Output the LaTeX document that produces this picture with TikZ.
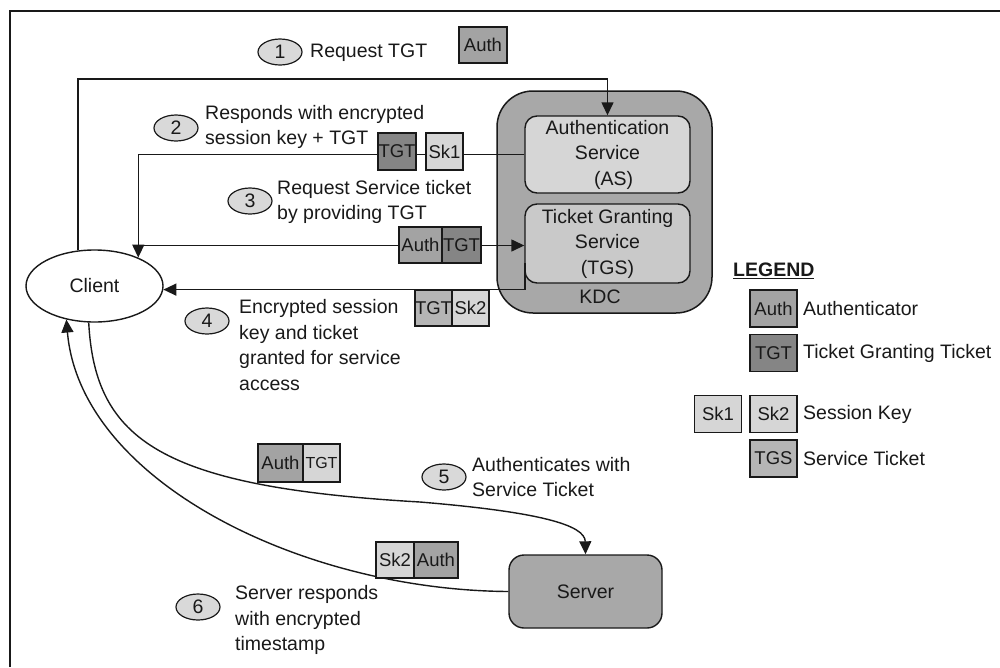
\documentclass[tikz,border=0pt]{standalone}
\usepackage{fontspec}
\setmainfont{Liberation Sans}
\usetikzlibrary{arrows.meta,calc,shapes.geometric}

\definecolor{numfill}{gray}{0.85}
\definecolor{authfill}{gray}{0.64}
\definecolor{tgtfill}{gray}{0.52}
\definecolor{skfill}{gray}{0.84}
\definecolor{tgsfill}{gray}{0.71}
\definecolor{kdcfill}{gray}{0.66}
\definecolor{asfill}{gray}{0.84}
\definecolor{tgsboxfill}{gray}{0.79}
\definecolor{serverfill}{gray}{0.66}
\definecolor{ink}{gray}{0.1}

\begin{document}
\begin{tikzpicture}[x=1pt,y=-1pt,
  every node/.style={font=\fontsize{19.5}{25.5}\selectfont, inner sep=0pt, text=ink},
  wire/.style={line width=1.4pt, draw=ink},
  arr/.style={wire, -{Triangle[length=13pt,width=12pt]}},
  num/.style={ellipse, draw=ink, line width=1.2pt, fill=numfill,
              minimum width=44pt, minimum height=26pt},
  tok/.style={draw=ink, line width=1.3pt, minimum height=37pt,
              font=\fontsize{18.5}{20}\selectfont},
  svc/.style={draw=ink, line width=1.4pt, rounded corners=12pt, align=center},
  note/.style={anchor=west, align=left},
]
\useasboundingbox (0,0) rectangle (1000,667);

% open frame (top and left edges)
\draw[line width=2pt, draw=ink] (10,667) -- (10,11) -- (1000,11);

% main actors
\node[ellipse, draw=ink, line width=1.4pt, fill=white,
      minimum width=137pt, minimum height=72pt] (client) at (94.5,286) {Client};
\node[draw=ink, line width=1.5pt, fill=kdcfill, rounded corners=36pt,
      minimum width=215pt, minimum height=222pt] (kdc) at (604.5,202) {};
\node (kdclabel) at (600,297) {KDC};
\node[svc, fill=asfill, minimum width=165pt, minimum height=77pt] (as)
      at (607.5,154.5) {Authentication\\Service\\\hspace*{12pt}(AS)};
\node[svc, fill=tgsboxfill, minimum width=165pt, minimum height=79pt] (tgs)
      at (607.5,243.5) {Ticket Granting\\Service\\(TGS)};
\node[svc, fill=serverfill, rounded corners=15pt, minimum width=153pt,
      minimum height=73pt] (server) at (585.5,591.5) {Server};

% helper points for the routed connectors
\coordinate (top1) at (300,79);
\coordinate (c3) at (137.6,245.5);
\coordinate (t4) at (525,263);
\coordinate (c5) at (420,502);

% 1: request TGT
\draw[arr] (client.115) |- (top1) -| (as.north);
% 2: session key + TGT back to the client
\draw[arr] (as.west) -| (client.33);
% 3: service ticket request to the TGS
\draw[arr] (c3) -- (c3 -| tgs.west);
% 4: encrypted session key and ticket
\draw[arr] (t4) |- (client.-3);
% 5: authenticate with the server
\draw[arr] (client.-99) .. controls (95,440) and (160,487) .. (c5)
           .. controls (540,512) and (585,525) .. (server.north);
% 6: server response
\draw[arr] (server.west) .. controls (300,590) and (80,480) .. (client.-130);

% step numbers
\node[num] (n1) at (280,52) {1};
\node[num] (n2) at (176,128) {2};
\node[num] (n3) at (250,201) {3};
\node[num] (n4) at (207,321) {4};
\node[num] (n5) at (444,477) {5};
\node[num] (n6) at (198,607) {6};

% step descriptions
\node[note] (d1) at (310,53) {Request TGT};
\node[note] (d2) at (205,127) {Responds with encrypted\\session key + TGT};
\node[note] (d3) at (277,202) {Request Service ticket\\by providing TGT};
\node[note] (d4) at (239,345) {Encrypted session\\key and ticket\\granted for service\\access};
\node[note] (d5) at (472,477) {Authenticates with\\Service Ticket};
\node[note] (d6) at (235,620) {Server responds\\with encrypted\\timestamp};

% tokens carried by each message
\node[tok, fill=authfill, minimum width=48pt, minimum height=36pt] (k1a) at (483,45) {Auth};

\node[tok, fill=tgtfill, minimum width=38pt] (k2t) at (397,151.5) {TGT};
\node[tok, fill=skfill, minimum width=37pt] (k2s) at (444.5,151.5) {Sk1};

\node[tok, fill=authfill, minimum width=43pt, minimum height=36pt] (k3a) at (420.5,245) {Auth};
\node[tok, fill=tgtfill, minimum width=39pt, minimum height=36pt] (k3t) at (461.5,245) {TGT};

\node[tok, fill=tgsfill, minimum width=37pt, minimum height=36pt] (k4t) at (433.5,308) {TGT};
\node[tok, fill=skfill, minimum width=37pt, minimum height=36pt] (k4s) at (470.5,308) {Sk2};

\node[tok, fill=authfill, minimum width=45pt, minimum height=38pt] (k5a) at (280.5,463) {Auth};
\node[tok, fill=skfill, minimum width=37pt, minimum height=38pt] (k5t) at (321.5,463)
      {\raisebox{-6pt}{\fontsize{16}{16}\selectfont TGT}};

\node[tok, fill=skfill, minimum width=38pt, minimum height=36pt] (k6s) at (395,560) {Sk2};
\node[tok, fill=authfill, minimum width=44pt, minimum height=36pt] (k6a) at (436,560) {Auth};

% legend
\node[anchor=west] (legend) at (733,271) {\underline{\textbf{LEGEND}}};
\node[tok, fill=authfill, minimum width=47pt] (la) at (773.5,308.5) {Auth};
\node[tok, fill=tgtfill, minimum width=47pt] (lt) at (773.5,353) {TGT};
\node[tok, fill=skfill, minimum width=47pt] (ls1) at (718,414) {Sk1};
\node[tok, fill=skfill, minimum width=47pt] (ls2) at (773.5,414) {Sk2};
\node[tok, fill=tgsfill, minimum width=47pt] (lg) at (773.5,458.5) {TGS};
\node[anchor=west] (lat) at (803,308.5) {Authenticator};
\node[anchor=west] (ltt) at (803,353) {Ticket Granting Ticket};
\node[anchor=west] (lst) at (803,414) {Session Key};
\node[anchor=west] (lgt) at (803,458.5) {Service Ticket};
\end{tikzpicture}
\end{document}
